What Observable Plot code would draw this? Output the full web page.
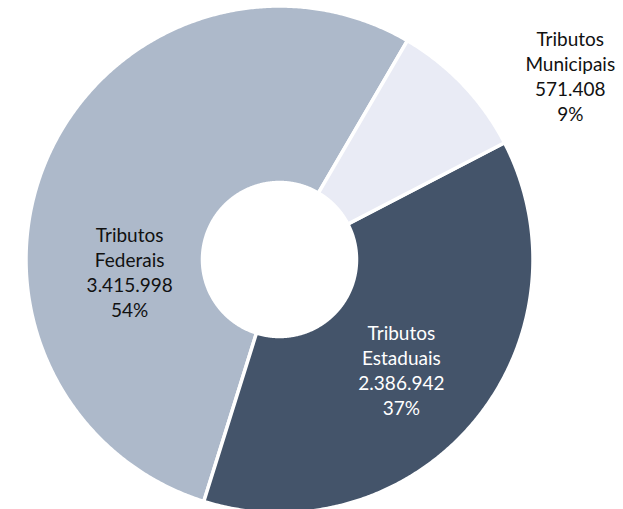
<!DOCTYPE html>
<html>
<head>
<meta charset="utf-8">
<script src="https://cdn.jsdelivr.net/npm/d3@7"></script>
<script src="https://cdn.jsdelivr.net/npm/@observablehq/plot@0.6"></script>
<style>
  html, body { margin: 0; padding: 0; background: #fff; }
  #chart { width: 623px; height: 509px; overflow: hidden; }
</style>
</head>
<body>
<div id="chart"></div>
<script>
// ---- Data ----
const categorias = ["Tributos Federais", "Tributos Estaduais", "Tributos Municipais"];
const valores = [3415998, 2386942, 571408];

// ---- Layout / style (not data) ----
const W = 623, H = 509;
const cx = 279, cy = 259;          // centre of the donut (px)
const R = 253.5, r0 = 77;          // outer / inner radius (px)
const startDeg = 30.3;             // angle (clockwise from north) where the first slice starts; slices run counter-clockwise
const cores = ["#adb9ca", "#44546a", "#e9ebf5"];
const coresTexto = ["#111111", "#ffffff", "#111111"];
// label anchor per slice: angle (deg, clockwise from north) and distance in units of R
const rotuloAngulo = [265.4, 132, 57.7];
const rotuloRaio = [0.593, 0.647, 1.357];

const fmt = d3.formatLocale({decimal: ",", thousands: ".", grouping: [3], currency: ["R$", ""]}).format(",d");
const total = d3.sum(valores);

const a0 = startDeg * Math.PI / 180;
const arcs = d3.pie().sort(null).startAngle(a0).endAngle(a0 - 2 * Math.PI)(valores);

// polygon outline of every donut slice, computed from the pie angles
const pts = [];
arcs.forEach((a, i) => {
  const step = 0.4 * Math.PI / 180;
  const n = Math.max(2, Math.ceil(Math.abs(a.endAngle - a.startAngle) / step));
  const ring = [];
  for (let k = 0; k <= n; k++) {
    const t = a.startAngle + (a.endAngle - a.startAngle) * k / n;
    ring.push({x: cx + R * Math.sin(t), y: cy - R * Math.cos(t)});
  }
  for (let k = n; k >= 0; k--) {
    const t = a.startAngle + (a.endAngle - a.startAngle) * k / n;
    ring.push({x: cx + r0 * Math.sin(t), y: cy - r0 * Math.cos(t)});
  }
  ring.push(ring[0]);
  ring.forEach(p => pts.push({...p, cat: categorias[i]}));
});

const rotulos = categorias.map((c, i) => {
  const t = rotuloAngulo[i] * Math.PI / 180;
  const words = c.split(" ");
  return {
    x: cx + rotuloRaio[i] * R * Math.sin(t),
    y: cy - rotuloRaio[i] * R * Math.cos(t),
    text: words[0] + "\n" + words[1] + "\n" + fmt(valores[i]) + "\n" + Math.round(valores[i] / total * 100) + "%",
    cor: coresTexto[i]
  };
});

const chart = Plot.plot({
  width: W,
  height: H,
  margin: 0,
  x: {domain: [0, W], range: [0, W], axis: null},
  y: {domain: [0, H], range: [0, H], axis: null},
  color: {domain: categorias, range: cores},
  style: {fontFamily: "Lato, 'Open Sans', sans-serif", background: "#fff"},
  marks: [
    Plot.line(pts, {
      x: "x", y: "y", z: "cat", fill: "cat",
      stroke: "#ffffff", strokeWidth: 3.5,
      strokeLinejoin: "miter", strokeMiterlimit: 4, curve: "linear"
    }),
    Plot.text(rotulos, {
      x: "x", y: "y", text: "text", fill: "cor",
      fontSize: 19, lineHeight: 1.32, textAnchor: "middle"
    })
  ]
});
document.getElementById("chart").appendChild(chart);
</script>
</body>
</html>
